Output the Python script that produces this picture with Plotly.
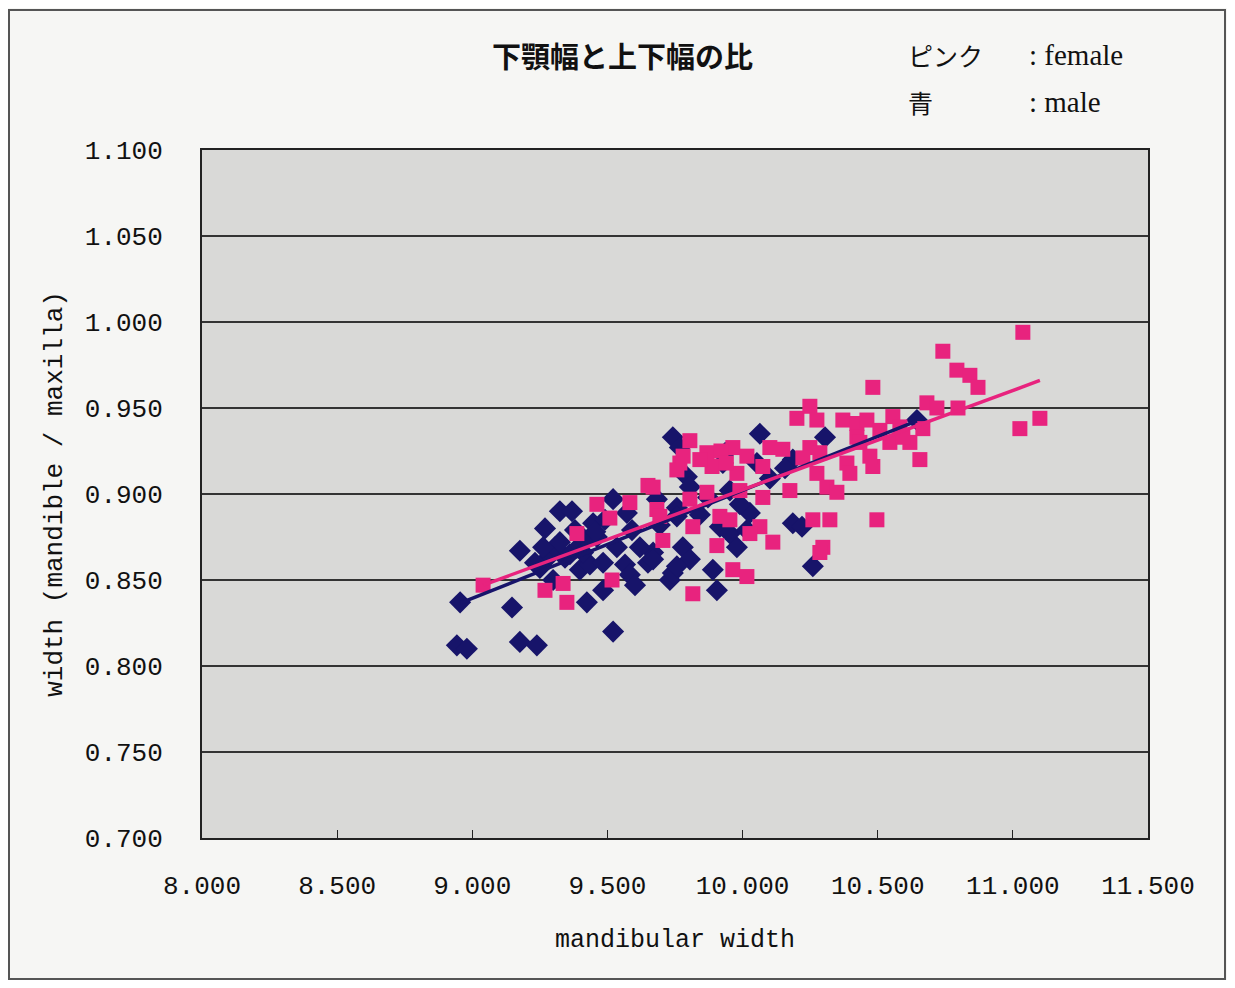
import plotly.graph_objects as go

# ---------------- data ----------------
male_x = [8.955, 8.943, 8.980, 9.147, 9.176, 9.239, 9.176, 9.269, 9.324, 9.369,
          9.250, 9.280, 9.306, 9.232, 9.299, 9.343, 9.398, 9.361, 9.398, 9.380,
          9.447, 9.461, 9.417, 9.435, 9.484, 9.484, 9.424, 9.521, 9.521, 9.572,
          9.535, 9.565, 9.583, 9.602, 9.650, 9.669, 9.620, 9.731, 9.742, 9.757,
          9.742, 9.768, 9.794, 9.805, 9.683, 9.757, 9.779, 9.805, 9.757, 9.669,
          9.890, 9.905, 9.916, 9.953, 9.979, 9.927, 9.953, 10.027, 10.016, 10.064,
          10.053, 10.305, 10.186, 10.220, 10.260, 10.186, 10.645, 9.491, 9.591, 9.694,
          9.842, 9.872, 9.990, 10.101, 10.157, 9.324, 9.262, 9.936, 9.410, 9.455]
male_y = [0.837, 0.812, 0.810, 0.834, 0.814, 0.812, 0.867, 0.880, 0.890, 0.890,
          0.857, 0.863, 0.869, 0.860, 0.850, 0.863, 0.856, 0.865, 0.870, 0.879,
          0.883, 0.875, 0.873, 0.859, 0.860, 0.844, 0.837, 0.820, 0.897, 0.889,
          0.869, 0.859, 0.853, 0.847, 0.860, 0.866, 0.869, 0.850, 0.854, 0.892,
          0.933, 0.927, 0.910, 0.904, 0.897, 0.887, 0.869, 0.862, 0.858, 0.862,
          0.856, 0.844, 0.881, 0.877, 0.869, 0.918, 0.902, 0.889, 0.879, 0.935,
          0.918, 0.933, 0.883, 0.881, 0.858, 0.920, 0.943, 0.885, 0.879, 0.882,
          0.888, 0.898, 0.894, 0.909, 0.915, 0.872, 0.869, 0.924, 0.866, 0.878]

female_x = [9.040, 9.269, 9.336, 9.350, 9.387, 9.461, 9.509, 9.583, 9.650, 9.705,
            9.517, 9.683, 9.805, 9.768, 9.868, 9.887, 9.964, 10.016, 9.979, 10.075,
            9.669, 9.868, 9.805, 9.990, 10.075, 9.694, 9.816, 9.916, 9.953, 10.064,
            10.027, 9.905, 9.964, 10.016, 9.816, 10.201, 10.249, 10.275, 10.371, 10.423,
            10.423, 10.434, 10.101, 10.149, 10.249, 10.286, 10.223, 10.386, 10.397, 10.175,
            10.275, 10.312, 10.349, 10.112, 10.260, 10.323, 10.297, 10.286, 10.741, 11.037,
            10.793, 10.841, 10.871, 10.482, 10.682, 10.719, 10.797, 11.100, 11.026, 10.667,
            10.619, 10.656, 10.482, 10.497, 10.460, 10.508, 10.556, 10.582, 10.471, 10.545,
            10.593, 9.757, 9.842, 9.920, 9.780, 9.940]
female_y = [0.847, 0.844, 0.848, 0.837, 0.877, 0.894, 0.886, 0.895, 0.905, 0.873,
            0.850, 0.891, 0.931, 0.918, 0.924, 0.916, 0.927, 0.922, 0.912, 0.916,
            0.904, 0.901, 0.897, 0.902, 0.898, 0.887, 0.881, 0.887, 0.885, 0.881,
            0.877, 0.870, 0.856, 0.852, 0.842, 0.944, 0.951, 0.943, 0.943, 0.941,
            0.933, 0.930, 0.927, 0.926, 0.927, 0.924, 0.921, 0.918, 0.912, 0.902,
            0.912, 0.904, 0.901, 0.872, 0.885, 0.885, 0.869, 0.866, 0.983, 0.994,
            0.972, 0.969, 0.962, 0.962, 0.953, 0.950, 0.950, 0.944, 0.938, 0.938,
            0.930, 0.920, 0.916, 0.885, 0.943, 0.937, 0.945, 0.939, 0.922, 0.930,
            0.933, 0.914, 0.920, 0.925, 0.922, 0.918]

male_trend_x = [8.955, 10.645]
male_trend_y = [0.8365, 0.9425]
female_trend_x = [9.040, 11.100]
female_trend_y = [0.8470, 0.9660]

x_ticks = [8.0, 8.5, 9.0, 9.5, 10.0, 10.5, 11.0, 11.5]
x_tick_labels = ["8.000", "8.500", "9.000", "9.500", "10.000", "10.500", "11.000", "11.500"]
y_ticks = [0.70, 0.75, 0.80, 0.85, 0.90, 0.95, 1.00, 1.05, 1.10]
y_tick_labels = ["0.700", "0.750", "0.800", "0.850", "0.900", "0.950", "1.000", "1.050", "1.100"]

title_text = "下顎幅と上下幅の比"
legend_rows = [("ピンク", ": female"), ("青", ": male")]

# ---------------- styling ----------------
NAVY = "#17146a"
PINK = "#e8237e"
MONO = "Liberation Mono, DejaVu Sans Mono, monospace"
OFF = 8                      # default body margin of the page
W, H = 1235 - 2 * OFF, 988 - 2 * OFF
L, T = 202 - OFF, 150 - OFF
R = W - (1148 - OFF)
B = H - (838 - OFF)

fig = go.Figure()
fig.add_trace(go.Scatter(x=male_x, y=male_y, mode="markers",
                         marker=dict(symbol="diamond", size=17, color=NAVY, line=dict(width=0)),
                         name="male"))
fig.add_trace(go.Scatter(x=female_x, y=female_y, mode="markers",
                         marker=dict(symbol="square", size=15, color=PINK, line=dict(width=0)),
                         name="female"))
fig.add_trace(go.Scatter(x=male_trend_x, y=male_trend_y, mode="lines",
                         line=dict(color=NAVY, width=3.5), name="male trend"))
fig.add_trace(go.Scatter(x=female_trend_x, y=female_trend_y, mode="lines",
                         line=dict(color=PINK, width=3.5), name="female trend"))

fig.update_layout(
    width=W, height=H,
    margin=dict(l=L, r=R, t=T, b=B),
    paper_bgcolor="#f6f6f4",
    plot_bgcolor="#d9d9d7",
    showlegend=False,
    font=dict(family=MONO, color="#111111"),
)
fig.update_xaxes(range=[8.0, 11.5], tickvals=x_ticks, ticktext=x_tick_labels,
                 showgrid=False, zeroline=False,
                 showline=True, linecolor="#222222", linewidth=2, mirror=True,
                 ticks="inside", ticklen=8, tickcolor="#222222",
                 tickfont=dict(family=MONO, size=26, color="#111111"),
                 ticklabelstandoff=23,
                 title=dict(text="mandibular width", font=dict(family=MONO, size=25), standoff=28))
fig.update_yaxes(range=[0.70, 1.10], tickvals=y_ticks, ticktext=y_tick_labels,
                 showgrid=True, gridcolor="#333333", gridwidth=1.5, zeroline=False,
                 showline=True, linecolor="#222222", linewidth=2, mirror=True,
                 ticks="", tickfont=dict(family=MONO, size=26, color="#111111"),
                 ticklabelstandoff=32,
                 title=dict(text="width (mandible / maxilla)", font=dict(family=MONO, size=26), standoff=15))

# helpers: page pixel -> paper coordinates
pw, ph = W - L - R, H - T - B
def px_x(p):
    return (p - OFF - L) / pw
def px_y(p):
    return 1 - (p - OFF - T) / ph

fig.add_shape(type="rect", xref="paper", yref="paper",
              x0=px_x(9), x1=px_x(1225), y0=px_y(979), y1=px_y(10),
              line=dict(color="#555555", width=2), fillcolor="rgba(0,0,0,0)", layer="below")

fig.add_annotation(text=f"<b>{title_text}</b>", xref="paper", yref="paper",
                   x=px_x(622), y=px_y(55), xanchor="center", yanchor="middle", showarrow=False,
                   font=dict(family="Noto Sans CJK JP", size=29, color="#111111"))
for i, (jp, en) in enumerate(legend_rows):
    yy = px_y(55 + 47 * i)
    fig.add_annotation(text=jp, xref="paper", yref="paper", x=px_x(906), y=yy,
                       xanchor="left", yanchor="middle", showarrow=False,
                       font=dict(family="Noto Sans CJK JP", size=25, color="#111111"))
    fig.add_annotation(text=en, xref="paper", yref="paper", x=px_x(1027), y=yy,
                       xanchor="left", yanchor="middle", showarrow=False,
                       font=dict(family="Liberation Serif, serif", size=29, color="#111111"))

fig.write_html("out.html")
